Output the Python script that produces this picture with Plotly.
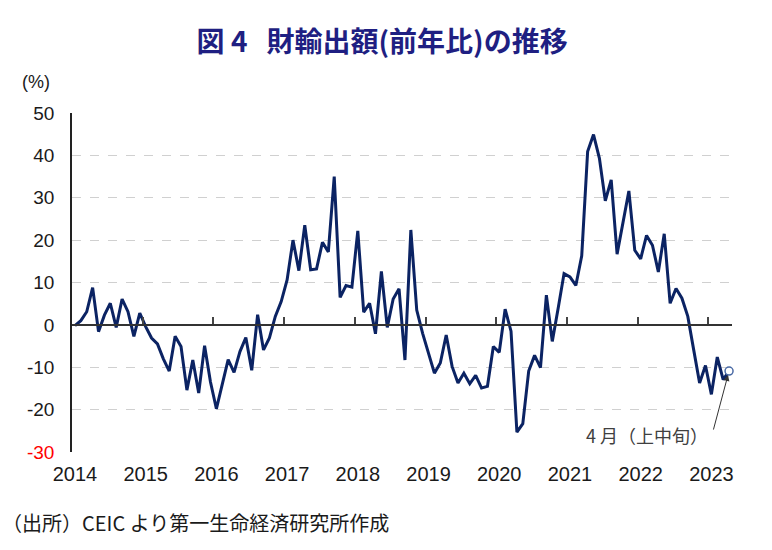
import plotly.graph_objects as go

# ---- data ----
years = ['2014', '2015', '2016', '2017', '2018', '2019', '2020', '2021', '2022', '2023']
values = [
    -0.2, 1.0, 3.1, 8.8, -1.6, 2.3, 5.1, -0.6, 6.1, 3.1, -2.7, 2.8,        # 2014
    -0.4, -3.1, -4.5, -8.0, -10.9, -2.7, -5.1, -15.4, -8.3, -16.1, -4.9, -13.5,  # 2015
    -19.8, -14.0, -8.2, -11.2, -6.3, -3.0, -10.7, 2.4, -5.9, -3.1, 2.0, 5.5,  # 2016
    10.6, 20.0, 12.8, 23.5, 13.0, 13.2, 19.5, 17.2, 35.0, 6.5, 9.3, 8.9,     # 2017
    22.2, 3.0, 5.1, -2.1, 12.6, -0.6, 6.1, 8.5, -8.3, 22.4, 3.5, -2.0,       # 2018
    -6.7, -11.4, -9.0, -2.4, -9.8, -13.7, -11.4, -13.9, -11.9, -14.9, -14.5, -5.1,  # 2019
    -6.5, 3.7, -1.5, -25.3, -23.3, -10.9, -7.2, -10.1, 7.0, -3.9, 3.9, 12.1,  # 2020
    11.3, 9.3, 16.3, 40.9, 44.9, 39.3, 29.3, 34.2, 16.7, 24.0, 31.6, 17.6,   # 2021
    15.6, 21.1, 18.8, 12.5, 21.5, 5.1, 8.6, 6.3, 2.0, -5.9, -13.7, -9.6,     # 2022
    -16.4, -7.6, -12.9, -10.9,                                               # 2023 (Apr = 上中旬)
]
y_ticks = [-30, -20, -10, 0, 10, 20, 30, 40, 50]
y_min, y_max = -30, 50

title = '<b>図 4\u00a0\u00a0\u00a0財輸出額(前年比)の推移</b>'
unit_label = '(%)'
source = '（出所）CEIC より第一生命経済研究所作成'
last_label = '4 月（上中旬）'

x = list(range(len(values)))
n = len(values)

fig = go.Figure()
fig.add_trace(go.Scatter(
    x=x, y=values, mode='lines', xaxis='x', yaxis='y',
    line=dict(color='#0b2363', width=3),
    hoverinfo='skip', showlegend=False))
fig.add_trace(go.Scatter(
    x=[x[-1]], y=[values[-1]], mode='markers', xaxis='x2', yaxis='y',
    marker=dict(symbol='circle', size=8, color='white',
                line=dict(color='#4a6aa5', width=1.5)),
    cliponaxis=False, showlegend=False))

ticktext_y = [('<span style="color:#ff0000">%d</span>' % v) if v == y_min else str(v) for v in y_ticks]

fig.update_layout(
    width=772, height=550,
    margin=dict(l=72, r=40, t=113, b=98),
    paper_bgcolor='white', plot_bgcolor='white',
    font=dict(family='Liberation Sans, Arial, sans-serif', color='#1a1a1a'),
    title=dict(text=title, x=0.495, xanchor='center', y=1 - 42 / 550, yanchor='middle',
               font=dict(family='Noto Sans CJK JP', size=28, color='#1f1f82')),
    xaxis=dict(range=[-0.5, n - 0.5], tickvals=[12 * k for k in range(len(years))],
               ticktext=years, showgrid=False, zeroline=False, showline=False,
               ticks='', tickfont=dict(size=20, color='#1a1a1a'), anchor='y',
               ticklabelstandoff=8),
    xaxis2=dict(overlaying='x', anchor='free',
                position=(0 - y_min) / (y_max - y_min),
                range=[-0.5, n - 0.5],
                tickvals=[12 * k - 0.5 for k in range(1, len(years))],
                ticks='inside', ticklen=7, tickwidth=1.5, tickcolor='#444444',
                showline=True, linecolor='#333333', linewidth=1.5,
                showticklabels=False, showgrid=False, zeroline=False),
    yaxis=dict(range=[y_min, y_max], tickvals=y_ticks, ticktext=ticktext_y,
               showgrid=True, griddash='dash', gridcolor='#d0d0d0', gridwidth=1,
               zeroline=False, showline=True, linecolor='#222222', linewidth=1.5,
               ticks='', tickfont=dict(size=19, color='#1a1a1a'),
               ticklabelstandoff=12),
    annotations=[
        dict(text=unit_label, xref='paper', yref='paper',
             x=(20 - 72) / 660, xanchor='left', y=1 + (113 - 82) / 339, yanchor='middle',
             showarrow=False, font=dict(size=18, color='#1a1a1a')),
        dict(text=source, xref='paper', yref='paper',
             x=-72 / 660, xanchor='left', y=-(522 - 452) / 339, yanchor='middle',
             showarrow=False, font=dict(family='Noto Sans CJK JP', size=20, color='#1a1a1a')),
        dict(text=last_label, xref='x', yref='y', x=x[-1], y=values[-1],
             xanchor='center', yanchor='middle', showarrow=False,
             xshift=-82, yshift=-64,
             font=dict(family='Noto Sans CJK JP', size=18, color='#404040')),
        dict(text='', xref='x', yref='y', x=x[-1], y=values[-1],
             showarrow=True, ax=-16, ay=60, arrowhead=2, arrowsize=1.2,
             arrowwidth=1, arrowcolor='#333333', standoff=4),
    ],
)

fig.write_html('out.html')
